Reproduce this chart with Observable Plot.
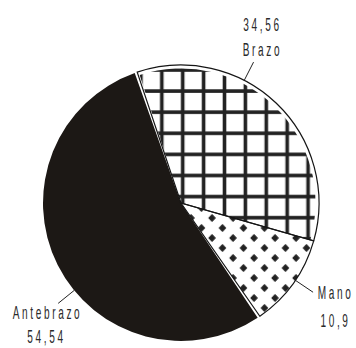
<!DOCTYPE html>
<html><head><meta charset="utf-8">
<script src="https://cdn.jsdelivr.net/npm/d3@7"></script>
<script src="https://cdn.jsdelivr.net/npm/@observablehq/plot@0.6"></script>
<style>
body{margin:0;background:#fff}
#chart{width:356px;height:348px}
#chart text{letter-spacing:5px}
</style>
</head><body><div id="chart"></div>
<script>
// ---- data ----
const categories = ["Brazo", "Mano", "Antebrazo"];
const values = [34.56, 10.9, 54.54];
const valueLabels = ["34,56", "10,9", "54,54"];

// ---- layout (not data) ----
const startDeg = -18.5;
const leaderDeg = [27, 124, 231];
const namePos = [[0.587, 1.116], [1.116, -0.645], [-0.971, -0.795]];
const valuePos = [[0.587, 1.297], [1.116, -0.848], [-0.978, -0.968]];

const rows = categories.map((c, i) => ({category: c, value: values[i], label: valueLabels[i]}));
const rad = Math.PI / 180;
const pie = d3.pie().sort(null).value(d => d.value)
  .startAngle(startDeg * rad).endAngle(startDeg * rad + 2 * Math.PI);
const arcsData = pie(rows);

function pieMark(index, scales) {
  const sx = scales.x, sy = scales.y;
  const cx = sx(0), cy = sy(0), R = sx(1) - sx(0);
  const g = d3.create("svg:g");
  const defs = g.append("defs");
  // grid hatch
  const gw = 20.9, gh = 21.1, lw = 3.6;
  const pg = defs.append("pattern").attr("id", "gridPat").attr("patternUnits", "userSpaceOnUse")
    .attr("width", gw).attr("height", gh)
    .attr("x", cx - 33 - gw / 2).attr("y", cy - 125 - gh / 2);
  pg.append("rect").attr("width", gw).attr("height", gh).attr("fill", "#fff");
  pg.append("rect").attr("x", gw / 2 - lw / 2).attr("y", 0).attr("width", lw).attr("height", gh).attr("fill", "#222");
  pg.append("rect").attr("x", 0).attr("y", gh / 2 - lw / 2).attr("width", gw).attr("height", lw).attr("fill", "#222");
  // dots
  const dw = 21, dh = 20;
  const pd = defs.append("pattern").attr("id", "dotPat").attr("patternUnits", "userSpaceOnUse")
    .attr("width", dw).attr("height", dh)
    .attr("x", cx + 18 - dw / 4).attr("y", cy + 12 - dh / 4);
  pd.append("rect").attr("width", dw).attr("height", dh).attr("fill", "#fff");
  for (const [px, py] of [[dw / 4, dh / 4], [3 * dw / 4, 3 * dh / 4]]) {
    pd.append("path").attr("d", `M${px},${py - 3.6}L${px + 3.3},${py}L${px},${py + 3.6}L${px - 3.3},${py}Z`)
      .attr("fill", "#222").attr("stroke", "#222").attr("stroke-width", 1).attr("stroke-linejoin", "round");
  }
  const arc = d3.arc().innerRadius(0);
  const root = g.append("g").attr("transform", `translate(${cx},${cy})`);
  const [brazo, mano, ante] = arcsData;
  const gap = 1.1 * rad;
  root.append("path").attr("d", arc.outerRadius(R)({startAngle: ante.startAngle + gap, endAngle: ante.endAngle - gap}))
    .attr("fill", "#1c1815");
  root.append("path").attr("d", arc.outerRadius(R - 3.5)({startAngle: brazo.startAngle + 0.6 * rad, endAngle: brazo.endAngle}))
    .attr("fill", "url(#gridPat)");
  root.append("path").attr("d", arc.outerRadius(R)(mano))
    .attr("fill", "url(#dotPat)");
  for (const a of [brazo, mano]) {
    root.append("path").attr("d", arc.outerRadius(R)(a))
      .attr("fill", "none").attr("stroke", "#151515").attr("stroke-width", 1.2);
  }
  return g.node();
}

const leaders = rows.map((d, i) => {
  const a = leaderDeg[i] * rad;
  return {x1: Math.sin(a) * 1.0, y1: Math.cos(a) * 1.0, x2: Math.sin(a) * 1.15, y2: Math.cos(a) * 1.15};
});
const texts = [
  ...rows.map((d, i) => ({t: d.category, x: namePos[i][0], y: namePos[i][1]})),
  ...rows.map((d, i) => ({t: d.label, x: valuePos[i][0], y: valuePos[i][1]}))
];

const plot = Plot.plot({
  width: 356, height: 348, margin: 0,
  style: {fontFamily: "'Liberation Sans', Arial, sans-serif", background: "#fff"},
  x: {domain: [-1, 1], range: [43, 319], axis: null},
  y: {domain: [-1, 1], range: [341, 65], axis: null},
  marks: [
    pieMark,
    Plot.link(leaders, {x1: "x1", y1: "y1", x2: "x2", y2: "y2", stroke: "#222", strokeWidth: 1}),
    Plot.text(texts, {x: "x", y: "y", text: "t", fontSize: 19, fill: "#2a2a2a", textAnchor: "middle"})
  ]
});
document.getElementById("chart").appendChild(plot);

// condense the label glyphs horizontally
d3.select(plot).selectAll("g[aria-label='text'] text").each(function () {
  let tr = this.getAttribute("transform");
  if (!tr) {
    const x = +this.getAttribute("x") || 0, y = +this.getAttribute("y") || 0;
    this.removeAttribute("x"); this.removeAttribute("y");
    tr = `translate(${x},${y})`;
  }
  this.setAttribute("transform", tr + " scale(0.53,1)");
});
</script>
</body></html>
